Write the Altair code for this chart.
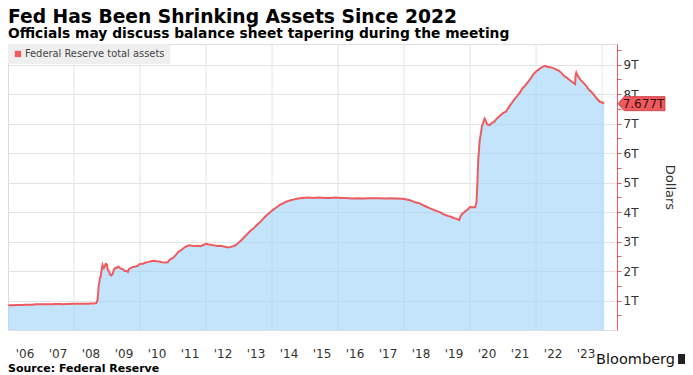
import altair as alt
import pandas as pd

# ---------------- data ----------------
dates = [
    "2006-01-04", "2006-02-01", "2006-03-01", "2006-04-05", "2006-05-03", "2006-06-07",
    "2006-07-05", "2006-08-02", "2006-09-06", "2006-10-04", "2006-11-01", "2006-12-06",
    "2007-01-03", "2007-02-07", "2007-03-07", "2007-04-04", "2007-05-02", "2007-06-06",
    "2007-07-04", "2007-08-01", "2007-09-05", "2007-10-03", "2007-11-07", "2007-12-05",
    "2008-01-02", "2008-02-06", "2008-03-05", "2008-04-02", "2008-05-07", "2008-06-04",
    "2008-07-02", "2008-08-06", "2008-09-03", "2008-09-17", "2008-09-24", "2008-10-01",
    "2008-10-08", "2008-10-15", "2008-10-22", "2008-10-29", "2008-11-05", "2008-11-12",
    "2008-11-19", "2008-11-26", "2008-12-03", "2008-12-17", "2008-12-31",
    "2009-01-07", "2009-01-21", "2009-02-04", "2009-02-18", "2009-03-04", "2009-03-18",
    "2009-04-01", "2009-04-15", "2009-05-06", "2009-06-03", "2009-07-01", "2009-07-15",
    "2009-08-05", "2009-08-19", "2009-09-02", "2009-10-07", "2009-11-04", "2009-12-02",
    "2009-12-30",
    "2010-02-03", "2010-03-03", "2010-04-07", "2010-05-05", "2010-06-02", "2010-07-07",
    "2010-08-04", "2010-09-01", "2010-10-06", "2010-11-03", "2010-12-01",
    "2011-01-05", "2011-02-02", "2011-03-02", "2011-04-06", "2011-05-04", "2011-06-01",
    "2011-07-06", "2011-08-03", "2011-09-07", "2011-10-05", "2011-11-02", "2011-12-07",
    "2012-01-04", "2012-02-01", "2012-03-07", "2012-04-04", "2012-05-02", "2012-06-06",
    "2012-07-04", "2012-08-01", "2012-09-05", "2012-10-03", "2012-11-07", "2012-12-05",
    "2013-01-02", "2013-02-06", "2013-03-06", "2013-04-03", "2013-05-01", "2013-06-05",
    "2013-07-03", "2013-08-07", "2013-09-04", "2013-10-02", "2013-11-06", "2013-12-04",
    "2014-01-01", "2014-02-05", "2014-03-05", "2014-04-02", "2014-05-07", "2014-06-04",
    "2014-07-02", "2014-08-06", "2014-09-03", "2014-10-01", "2014-11-05", "2014-12-03",
    "2015-02-04", "2015-04-01", "2015-06-03", "2015-08-05", "2015-10-07", "2015-12-02",
    "2016-02-03", "2016-04-06", "2016-06-01", "2016-08-03", "2016-10-05", "2016-12-07",
    "2017-02-01", "2017-04-05", "2017-06-07", "2017-08-02", "2017-10-04", "2017-12-06",
    "2018-01-03", "2018-02-07", "2018-03-07", "2018-04-04", "2018-05-02", "2018-06-06",
    "2018-07-04", "2018-08-01", "2018-09-05", "2018-10-03", "2018-11-07", "2018-12-05",
    "2019-01-02", "2019-02-06", "2019-03-06", "2019-04-03", "2019-05-01", "2019-06-05",
    "2019-07-03", "2019-08-07", "2019-09-04", "2019-09-18", "2019-10-02", "2019-11-06",
    "2019-12-04",
    "2020-01-01", "2020-01-29", "2020-02-26", "2020-03-11", "2020-03-18", "2020-03-25",
    "2020-04-01", "2020-04-08", "2020-04-15", "2020-04-29", "2020-05-13", "2020-05-27",
    "2020-06-10", "2020-06-24", "2020-07-08", "2020-07-22", "2020-08-05", "2020-08-26",
    "2020-09-23", "2020-10-21", "2020-11-18", "2020-12-30",
    "2021-02-03", "2021-03-03", "2021-04-07", "2021-05-05", "2021-06-02", "2021-07-07",
    "2021-08-04", "2021-09-01", "2021-10-06", "2021-11-03", "2021-12-01", "2021-12-29",
    "2022-02-02", "2022-03-02", "2022-04-13", "2022-05-04", "2022-06-01", "2022-07-06",
    "2022-08-03", "2022-09-07", "2022-10-05", "2022-11-02", "2022-12-07",
    "2023-01-04", "2023-02-01", "2023-03-08", "2023-03-15", "2023-03-22", "2023-04-05",
    "2023-05-03", "2023-06-07", "2023-07-05", "2023-08-02", "2023-09-06", "2023-10-04",
    "2023-11-01", "2023-12-06", "2024-01-10", "2024-01-24",
]
assets_t = [
    0.84, 0.84, 0.84, 0.85, 0.85, 0.85, 0.86, 0.86, 0.86, 0.86, 0.87, 0.87,
    0.87, 0.87, 0.87, 0.87, 0.87, 0.88, 0.88, 0.88, 0.87, 0.88, 0.88, 0.89,
    0.89, 0.89, 0.89, 0.89, 0.89, 0.89, 0.90, 0.90, 0.91, 1.00, 1.25, 1.50,
    1.63, 1.78, 1.80, 1.97, 2.08, 2.20, 2.14, 2.10, 2.13, 2.24, 2.22,
    2.06, 2.00, 1.88, 1.85, 1.90, 2.05, 2.10, 2.10, 2.15, 2.08, 2.05, 2.00,
    2.00, 1.97, 2.07, 2.13, 2.15, 2.17, 2.24,
    2.25, 2.29, 2.31, 2.33, 2.35, 2.33, 2.32, 2.30, 2.29, 2.30, 2.40,
    2.45, 2.55, 2.65, 2.72, 2.79, 2.84, 2.87, 2.86, 2.85, 2.86, 2.84, 2.89,
    2.92, 2.90, 2.88, 2.87, 2.85, 2.86, 2.84, 2.82, 2.80, 2.82, 2.85, 2.90,
    2.98, 3.08, 3.17, 3.26, 3.35, 3.43, 3.52, 3.62, 3.70, 3.80, 3.90, 3.98,
    4.05, 4.13, 4.19, 4.25, 4.30, 4.35, 4.38, 4.41, 4.43, 4.45, 4.47, 4.48,
    4.49, 4.48, 4.49, 4.48, 4.48, 4.49,
    4.48, 4.48, 4.46, 4.47, 4.46, 4.47,
    4.47, 4.47, 4.46, 4.47, 4.46, 4.45,
    4.44, 4.42, 4.40, 4.37, 4.33, 4.31, 4.28, 4.23, 4.18, 4.14, 4.10, 4.06,
    4.03, 3.99, 3.94, 3.90, 3.87, 3.84, 3.80, 3.77, 3.73, 3.86, 3.92, 4.02,
    4.09,
    4.17, 4.16, 4.16, 4.31, 4.67, 5.25, 5.81, 6.08, 6.37, 6.66, 6.93, 7.04,
    7.17, 7.09, 6.97, 6.96, 6.95, 7.02, 7.06, 7.16, 7.24, 7.36,
    7.41, 7.55, 7.70, 7.82, 7.92, 8.06, 8.20, 8.29, 8.42, 8.54, 8.67, 8.76,
    8.84, 8.91, 8.96, 8.93, 8.91, 8.89, 8.85, 8.80, 8.73, 8.63, 8.55,
    8.49, 8.42, 8.34, 8.64, 8.73, 8.63, 8.50, 8.39, 8.30, 8.17, 8.07, 7.97,
    7.86, 7.74, 7.71, 7.677,
]
series_name = "Federal Reserve total assets"
year_labels = list(range(2006, 2024))
grid_years = ["2008-01-01", "2010-01-01", "2012-01-01", "2014-01-01", "2016-01-01",
              "2018-01-01", "2020-01-01", "2022-01-01", "2024-01-01"]
y_ticks = [0.5, 1, 1.5, 2, 2.5, 3, 3.5, 4, 4.5, 5, 5.5, 6, 6.5, 7, 7.5, 8, 8.5, 9, 9.5]
last_label = "7.677T"
last_value = 7.677

title_text = "Fed Has Been Shrinking Assets Since 2022"
subtitle_text = "Officials may discuss balance sheet tapering during the meeting"
source_text = "Source: Federal Reserve"
brand_text = "Bloomberg"

# ---------------- styling ----------------
RED = "#ef5a5f"
W, H = 609, 286
FONT = "DejaVu Sans"

df = pd.DataFrame({"date": dates, "value": assets_t, "series": series_name})

x_scale = alt.Scale(type="utc", domain=[alt.DateTime(year=2006, month=1, date=1, utc=True),
                                        alt.DateTime(year=2024, month=6, date=14, utc=True)])
y_scale = alt.Scale(domain=[0, 9.7], nice=False, zero=True)

x_axis = alt.Axis(
    values=[alt.DateTime(year=y, month=1, date=1, utc=True) for y in year_labels],
    labelExpr="\"'\" + utcFormat(datum.value, '%y')",
    labelOffset=16.5, labelAlign="center", labelPadding=18,
    ticks=False, domain=False, grid=False, title=None,
    labelFontSize=12, labelColor="#333333", labelFont=FONT,
)
y_axis = alt.Axis(
    orient="right", values=y_ticks,
    labelExpr="datum.value % 1 === 0 ? datum.value + 'T' : ''",
    grid=True, gridColor="#e3e3e3",
    gridOpacity={"condition": {"test": "datum.value % 1 === 0", "value": 1}, "value": 0},
    domainColor=RED, tickColor=RED, tickSize=4, domainWidth=1,
    labelFontSize=12, labelColor="#333333", labelFont=FONT, labelPadding=2,
    title="Dollars", titleFontSize=13, titleFontWeight="normal", titleColor="#333333",
    titleFont=FONT, titlePadding=25,
)

base = alt.Chart(df)

vgrid = alt.Chart(pd.DataFrame({"g": grid_years})).mark_rule(
    color="#e3e3e3", strokeWidth=1
).encode(x=alt.X("g:T", scale=x_scale, axis=x_axis))

area = base.mark_area(color="#9fd3f8", fillOpacity=0.62).encode(
    x=alt.X("date:T", scale=x_scale, axis=x_axis),
    y=alt.Y("value:Q", scale=y_scale, axis=y_axis),
)

line = base.mark_line(strokeWidth=2).encode(
    x=alt.X("date:T", scale=x_scale, axis=x_axis),
    y=alt.Y("value:Q", scale=y_scale, axis=y_axis),
    color=alt.Color(
        "series:N",
        scale=alt.Scale(domain=[series_name], range=[RED]),
        legend=alt.Legend(
            orient="none", legendX=0, legendY=0, title=None,
            fillColor="#efefef", padding=5, symbolType="square", symbolSize=40,
            symbolFillColor=RED, symbolStrokeWidth=0, symbolOpacity=1,
            labelFontSize=9.9, labelColor="#444444", labelFont=FONT, labelOffset=2,
        ),
    ),
)

lab_df = pd.DataFrame({"v": [last_value], "t": [last_label]})
tag = alt.Chart(lab_df).mark_point(
    shape="M -1 0 L -0.74 -0.3 L 1 -0.3 L 1 0.3 L -0.74 0.3 Z",
    filled=True, fill=RED, stroke="#c83c40", strokeWidth=0.8, opacity=1, size=2209,
).encode(x=alt.value(W + 24.5), y=alt.Y("v:Q", scale=y_scale, axis=y_axis))
tag_text = alt.Chart(lab_df).mark_text(
    font=FONT, fontSize=12, color="#3a1010", align="center", baseline="middle", dx=2,
).encode(x=alt.value(W + 24.5), y=alt.Y("v:Q", scale=y_scale, axis=y_axis), text="t:N")


def note(txt, x, y, size, weight="normal", align="left", color="#000000", baseline="alphabetic"):
    return alt.Chart(pd.DataFrame({"t": [txt]})).mark_text(
        font=FONT, fontSize=size, fontWeight=weight, align=align, baseline=baseline, color=color,
    ).encode(x=alt.value(x), y=alt.value(y), text="t:N")


title = note(title_text, 0, -21, 18.7, "bold")
subtitle = note(subtitle_text, 0, -6, 13.8, "bold")
source = note(source_text, 0, 327.5, 11, "bold")
brand = note(brand_text, 667, 320, 14.5, "normal", align="right", color="#111111")
logo = alt.Chart(pd.DataFrame({"t": [1]})).mark_square(
    color="#222222", size=100, opacity=1
).encode(x=alt.value(675), y=alt.value(315))

chart = alt.layer(
    vgrid, area, line, tag, tag_text, title, subtitle, source, brand, logo
).properties(
    width=W, height=H,
    autosize=alt.AutoSizeParams(type="none"),
    padding={"left": 0, "top": 36, "right": 68, "bottom": 45},
).configure_view(stroke=None).configure(font=FONT)

chart.save("out.html", embed_options={"renderer": "svg", "actions": False})
